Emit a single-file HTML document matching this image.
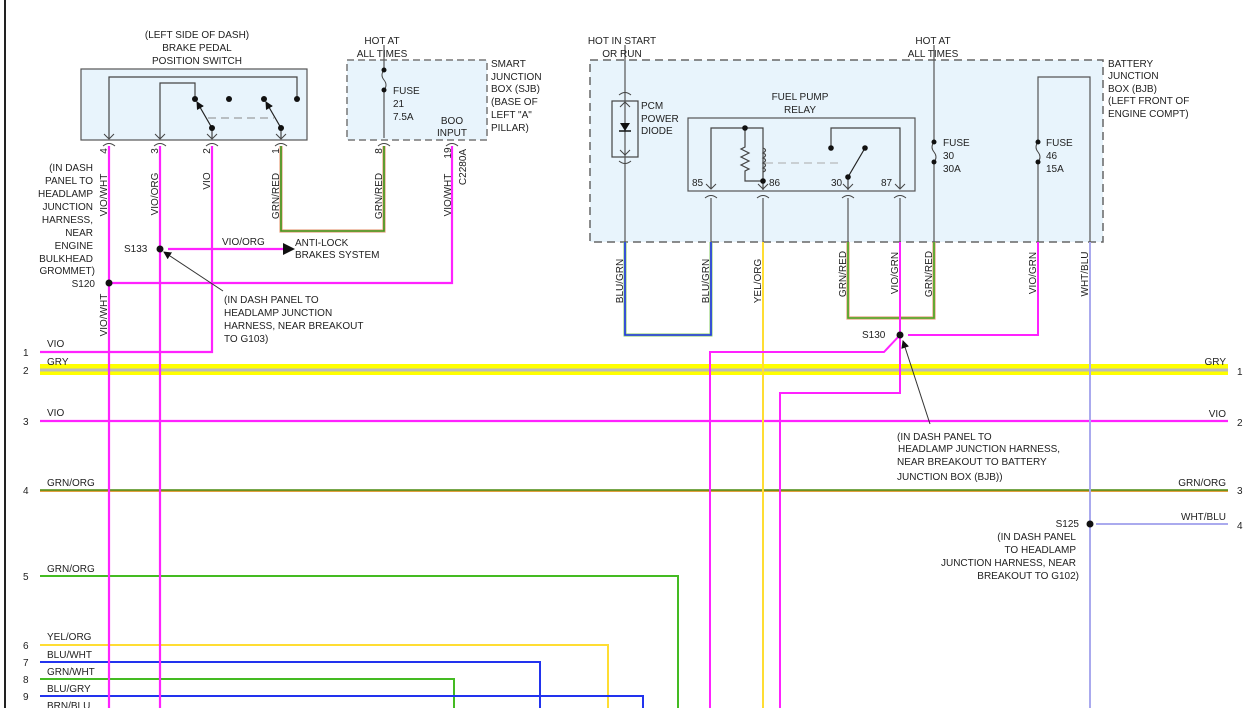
<!DOCTYPE html>
<html><head><meta charset="utf-8"><style>
html,body{margin:0;padding:0;background:#fff;}
svg{display:block;font-family:"Liberation Sans",Arial,sans-serif;font-size:10px;fill:#222;}
text{fill:#222;}
</style></head><body>
<svg width="1248" height="708" viewBox="0 0 1248 708" xmlns="http://www.w3.org/2000/svg">
<defs>
<marker id="ah" markerWidth="8" markerHeight="8" refX="7" refY="4" orient="auto" markerUnits="userSpaceOnUse"><path d="M0,0 L8,4 L0,8 z" fill="#111"/></marker>
</defs>
<line x1="5" y1="0" x2="5" y2="708" stroke="#222" stroke-width="2"/>

<!-- horizontal rows -->
<rect x="40" y="364" width="1188" height="11" fill="#ffff00"/>
<line x1="40" y1="370" x2="1228" y2="370" stroke="#bbb" stroke-width="3"/>
<line x1="40" y1="421" x2="1228" y2="421" stroke="#ff22ff" stroke-width="2.2"/>
<line x1="40" y1="491" x2="1228" y2="491" stroke="#e0a040" stroke-width="2"/>
<line x1="40" y1="490" x2="1228" y2="490" stroke="#4a8a10" stroke-width="1.4"/>
<g fill="none" stroke-width="2">
<path d="M40,576 H678 V708" stroke="#44bb22"/>
<path d="M40,645 H608 V708" stroke="#ffdd33"/>
<path d="M40,662 H540 V708" stroke="#2233ee"/>
<path d="M40,679 H454 V708" stroke="#44bb22"/>
<path d="M40,696 H643 V708" stroke="#2233ee"/>
</g>

<!-- Brake switch box -->
<rect x="81" y="69" width="226" height="71" fill="#e8f4fc" stroke="#555" stroke-width="1.2"/>
<g stroke="#444" stroke-width="1.2" fill="none">
<path d="M109,138 V77 H297 V99"/>
<path d="M160,138 V83 H195 V99"/>
<path d="M212,138 V128"/>
<path d="M281,138 V128"/>
</g>
<g stroke="#222" stroke-width="1.2">
<line x1="212" y1="128" x2="197" y2="102" marker-end="url(#ah)"/>
<line x1="281" y1="128" x2="266" y2="102" marker-end="url(#ah)"/>
</g>
<line x1="208" y1="118" x2="274" y2="118" stroke="#888" stroke-dasharray="8,5"/>
<g fill="#111"><circle cx="195" cy="99" r="3"/><circle cx="229" cy="99" r="3"/><circle cx="264" cy="99" r="3"/><circle cx="297" cy="99" r="3"/><circle cx="212" cy="128" r="3"/><circle cx="281" cy="128" r="3"/></g>
<g stroke="#444" stroke-width="1" fill="none">
<path d="M104,134 L109,139 L114,134"/><path d="M103,146 Q109,141 115,146"/>
<path d="M155,134 L160,139 L165,134"/><path d="M154,146 Q160,141 166,146"/>
<path d="M207,134 L212,139 L217,134"/><path d="M206,146 Q212,141 218,146"/>
<path d="M276,134 L281,139 L286,134"/><path d="M275,146 Q281,141 287,146"/>
<path d="M379,134 L384,139 L389,134"/><path d="M378,146 Q384,141 390,146"/>
<path d="M447,134 L452,139 L457,134"/><path d="M446,146 Q452,141 458,146"/>
</g>

<!-- SJB -->
<rect x="347" y="60" width="140" height="80" fill="#e8f4fc" stroke="#777" stroke-width="1.5" stroke-dasharray="7,4"/>
<path d="M384,45 V70 M384,90 V138" stroke="#555" stroke-width="1.2"/>
<path d="M384,70 Q380,75 384,80 Q388,85 384,90" stroke="#444" fill="none"/>
<circle cx="384" cy="70" r="2.5" fill="#111"/><circle cx="384" cy="90" r="2.5" fill="#111"/>

<!-- left wires -->
<g fill="none" stroke-width="2.2">
<path d="M109,146 V708" stroke="#ff22ff"/>
<path d="M160,146 V708" stroke="#ff22ff"/>
<path d="M212,146 V352 H40" stroke="#ff22ff"/>
<path d="M452,146 V283 H109" stroke="#ff22ff"/>
<path d="M168,249 H283" stroke="#ff22ff"/>
<path d="M281,146 V231 H384 V146" stroke="#e8a080" stroke-width="3.2"/>
<path d="M281,146 V231 H384 V146" stroke="#3c9a1c" stroke-width="1.6"/>
</g>
<path d="M283,243 L295,249 L283,255 z" fill="#111"/>
<circle cx="160" cy="249" r="3.5" fill="#111"/>
<circle cx="109" cy="283" r="3.5" fill="#111"/>
<line x1="223" y1="291" x2="164" y2="252" stroke="#333" marker-end="url(#ah)"/>

<!-- BJB -->
<rect x="590" y="60" width="513" height="182" fill="#e8f4fc" stroke="#666" stroke-width="1.5" stroke-dasharray="8,5"/>
<rect x="612" y="101" width="26" height="56" fill="none" stroke="#444" stroke-width="1.2"/>
<path d="M625,45 V242" stroke="#555" stroke-width="1.2"/>
<path d="M620,123 L630,123 L625,131 z" fill="#111"/><line x1="619" y1="131" x2="631" y2="131" stroke="#111" stroke-width="1.5"/>
<g stroke="#444" fill="none">
<path d="M620,107 L625,102 L630,107"/><path d="M620,150 L625,155 L630,150"/>
<path d="M619,95 Q625,90 631,95"/><path d="M619,161 Q625,166 631,161"/>
</g>
<rect x="688" y="118" width="227" height="73" fill="#e8f4fc" stroke="#555" stroke-width="1.2"/>
<g stroke="#444" stroke-width="1.2" fill="none">
<path d="M711,188 V128 H763 V181"/>
<path d="M745,128 V147 l-4,2 l8,4 l-8,4 l8,4 l-8,4 l8,4 l-4,2 V181 H763"/>
<path d="M763,148 q5,2 0,5 q5,2 0,5 q5,2 0,5 q5,2 0,5 q5,2 0,4"/>
<path d="M763,181 V190"/>
<path d="M831,148 V128 H900 V188"/>
<path d="M848,177 V190"/>
</g>
<line x1="848" y1="177" x2="865" y2="148" stroke="#222" stroke-width="1.2"/>
<line x1="765" y1="163" x2="840" y2="163" stroke="#aaa" stroke-dasharray="8,5"/>
<g fill="#111"><circle cx="745" cy="128" r="2.8"/><circle cx="763" cy="181" r="2.8"/><circle cx="831" cy="148" r="2.8"/><circle cx="865" cy="148" r="2.8"/><circle cx="848" cy="177" r="2.8"/></g>
<g stroke="#444" fill="none">
<path d="M706,184 L711,189 L716,184"/><path d="M705,198 Q711,193 717,198"/>
<path d="M758,184 L763,189 L768,184"/><path d="M757,198 Q763,193 769,198"/>
<path d="M843,184 L848,189 L853,184"/><path d="M842,198 Q848,193 854,198"/>
<path d="M895,184 L900,189 L905,184"/><path d="M894,198 Q900,193 906,198"/>
</g>
<g stroke="#555" stroke-width="1.2" fill="none">
<path d="M711,198 V242"/><path d="M763,198 V242"/><path d="M848,198 V242"/><path d="M900,198 V242"/>
<path d="M934,45 V142 M934,162 V242"/>
<path d="M1038,242 V162 M1038,142 V77 H1090 V242"/>
</g>
<path d="M934,142 Q930,147 934,152 Q938,157 934,162" stroke="#444" fill="none"/>
<path d="M1038,142 Q1034,147 1038,152 Q1042,157 1038,162" stroke="#444" fill="none"/>
<g fill="#111"><circle cx="934" cy="142" r="2.5"/><circle cx="934" cy="162" r="2.5"/><circle cx="1038" cy="142" r="2.5"/><circle cx="1038" cy="162" r="2.5"/></g>

<!-- right wires -->
<g fill="none" stroke-width="2">
<path d="M625,242 V335 H711 V242" stroke="#88cc66" stroke-width="3"/>
<path d="M625,242 V335 H711 V242" stroke="#2233ee" stroke-width="1.6"/>
<path d="M763,242 V708" stroke="#ffdd33"/>
<path d="M848,242 V318 H934 V242" stroke="#e8a080" stroke-width="3.2"/>
<path d="M848,242 V318 H934 V242" stroke="#44aa22" stroke-width="1.6"/>
<path d="M900,242 V393 H780 V708" stroke="#ff22ff"/>
<path d="M900,335 L884,352 H710 V708" stroke="#ff22ff"/>
<path d="M908,335 H1038 V242" stroke="#ff22ff"/>
<path d="M1090,242 V708" stroke="#aaaaee"/>
<path d="M1096,524 H1228" stroke="#aaaaee"/>
</g>
<circle cx="900" cy="335" r="3.5" fill="#111"/>
<circle cx="1090" cy="524" r="3.5" fill="#111"/>
<line x1="930" y1="424" x2="903" y2="341" stroke="#333" marker-end="url(#ah)"/>

<!-- texts -->
<g text-anchor="middle">
<text x="197" y="38">(LEFT SIDE OF DASH)</text>
<text x="197" y="51">BRAKE PEDAL</text>
<text x="197" y="64">POSITION SWITCH</text>
<text x="382" y="44">HOT AT</text><text x="382" y="57">ALL TIMES</text>
<text x="452" y="124">BOO</text><text x="452" y="136">INPUT</text>
<text x="622" y="44">HOT IN START</text><text x="622" y="57">OR RUN</text>
<text x="933" y="44">HOT AT</text><text x="933" y="57">ALL TIMES</text>
<text x="800" y="100">FUEL PUMP</text><text x="800" y="113">RELAY</text>
</g>
<g>
<text x="491" y="67">SMART</text><text x="491" y="80">JUNCTION</text><text x="491" y="92">BOX (SJB)</text><text x="491" y="105">(BASE OF</text><text x="491" y="118">LEFT "A"</text><text x="491" y="131">PILLAR)</text>
<text x="393" y="94">FUSE</text><text x="393" y="107">21</text><text x="393" y="120">7.5A</text>
<text x="124" y="252">S133</text>
<text x="222" y="245">VIO/ORG</text>
<text x="295" y="246">ANTI-LOCK</text><text x="295" y="258">BRAKES SYSTEM</text>
<text x="224" y="303">(IN DASH PANEL TO</text><text x="224" y="316">HEADLAMP JUNCTION</text><text x="224" y="329">HARNESS, NEAR BREAKOUT</text><text x="224" y="342">TO G103)</text>
<text x="1108" y="67">BATTERY</text><text x="1108" y="79">JUNCTION</text><text x="1108" y="92">BOX (BJB)</text><text x="1108" y="104">(LEFT FRONT OF</text><text x="1108" y="117">ENGINE COMPT)</text>
<text x="641" y="109">PCM</text><text x="641" y="122">POWER</text><text x="641" y="134">DIODE</text>
<text x="692" y="186">85</text><text x="769" y="186">86</text><text x="831" y="186">30</text><text x="881" y="186">87</text>
<text x="943" y="146">FUSE</text><text x="943" y="159">30</text><text x="943" y="172">30A</text>
<text x="1046" y="146">FUSE</text><text x="1046" y="159">46</text><text x="1046" y="172">15A</text>
<text x="862" y="338">S130</text>
<text x="897" y="440">(IN DASH PANEL TO</text><text x="898" y="452">HEADLAMP JUNCTION HARNESS,</text><text x="897" y="465">NEAR BREAKOUT TO BATTERY</text><text x="897" y="480">JUNCTION BOX (BJB))</text>
<text x="47" y="347">VIO</text><text x="47" y="365">GRY</text><text x="47" y="416">VIO</text><text x="47" y="486">GRN/ORG</text><text x="47" y="572">GRN/ORG</text><text x="47" y="640">YEL/ORG</text><text x="47" y="658">BLU/WHT</text><text x="47" y="675">GRN/WHT</text><text x="47" y="692">BLU/GRY</text><text x="47" y="709">BRN/BLU</text>
<text x="23" y="356">1</text><text x="23" y="374">2</text><text x="23" y="425">3</text><text x="23" y="494">4</text><text x="23" y="580">5</text><text x="23" y="649">6</text><text x="23" y="666">7</text><text x="23" y="683">8</text><text x="23" y="700">9</text>
<text x="1237" y="375">1</text><text x="1237" y="426">2</text><text x="1237" y="494">3</text><text x="1237" y="529">4</text>
</g>
<g text-anchor="end">
<text x="93" y="171">(IN DASH</text><text x="93" y="184">PANEL TO</text><text x="93" y="197">HEADLAMP</text><text x="93" y="210">JUNCTION</text><text x="93" y="223">HARNESS,</text><text x="93" y="236">NEAR</text><text x="93" y="249">ENGINE</text><text x="93" y="262">BULKHEAD</text><text x="95" y="274">GROMMET)</text>
<text x="95" y="287">S120</text>
<text x="1226" y="365">GRY</text><text x="1226" y="417">VIO</text><text x="1226" y="486">GRN/ORG</text><text x="1226" y="520">WHT/BLU</text>
<text x="1079" y="527">S125</text>
<text x="1076" y="540">(IN DASH PANEL</text><text x="1076" y="553">TO HEADLAMP</text><text x="1076" y="566">JUNCTION HARNESS, NEAR</text><text x="1079" y="579">BREAKOUT TO G102)</text>
</g>
<!-- rotated labels -->
<g text-anchor="middle">
<text transform="translate(107,151) rotate(-90)">4</text>
<text transform="translate(107,195) rotate(-90)">VIO/WHT</text>
<text transform="translate(107,315) rotate(-90)">VIO/WHT</text>
<text transform="translate(158,151) rotate(-90)">3</text>
<text transform="translate(158,194) rotate(-90)">VIO/ORG</text>
<text transform="translate(210,151) rotate(-90)">2</text>
<text transform="translate(210,181) rotate(-90)">VIO</text>
<text transform="translate(279,151) rotate(-90)">1</text>
<text transform="translate(279,196) rotate(-90)">GRN/RED</text>
<text transform="translate(382,151) rotate(-90)">8</text>
<text transform="translate(382,196) rotate(-90)">GRN/RED</text>
<text transform="translate(451,153) rotate(-90)">19</text>
<text transform="translate(451,195) rotate(-90)">VIO/WHT</text>
<text transform="translate(466,167) rotate(-90)">C2280A</text>
<text transform="translate(623,281) rotate(-90)">BLU/GRN</text>
<text transform="translate(709,281) rotate(-90)">BLU/GRN</text>
<text transform="translate(761,281) rotate(-90)">YEL/ORG</text>
<text transform="translate(846,274) rotate(-90)">GRN/RED</text>
<text transform="translate(898,273) rotate(-90)">VIO/GRN</text>
<text transform="translate(932,274) rotate(-90)">GRN/RED</text>
<text transform="translate(1036,273) rotate(-90)">VIO/GRN</text>
<text transform="translate(1088,274) rotate(-90)">WHT/BLU</text>
</g>
</svg>
</body></html>
